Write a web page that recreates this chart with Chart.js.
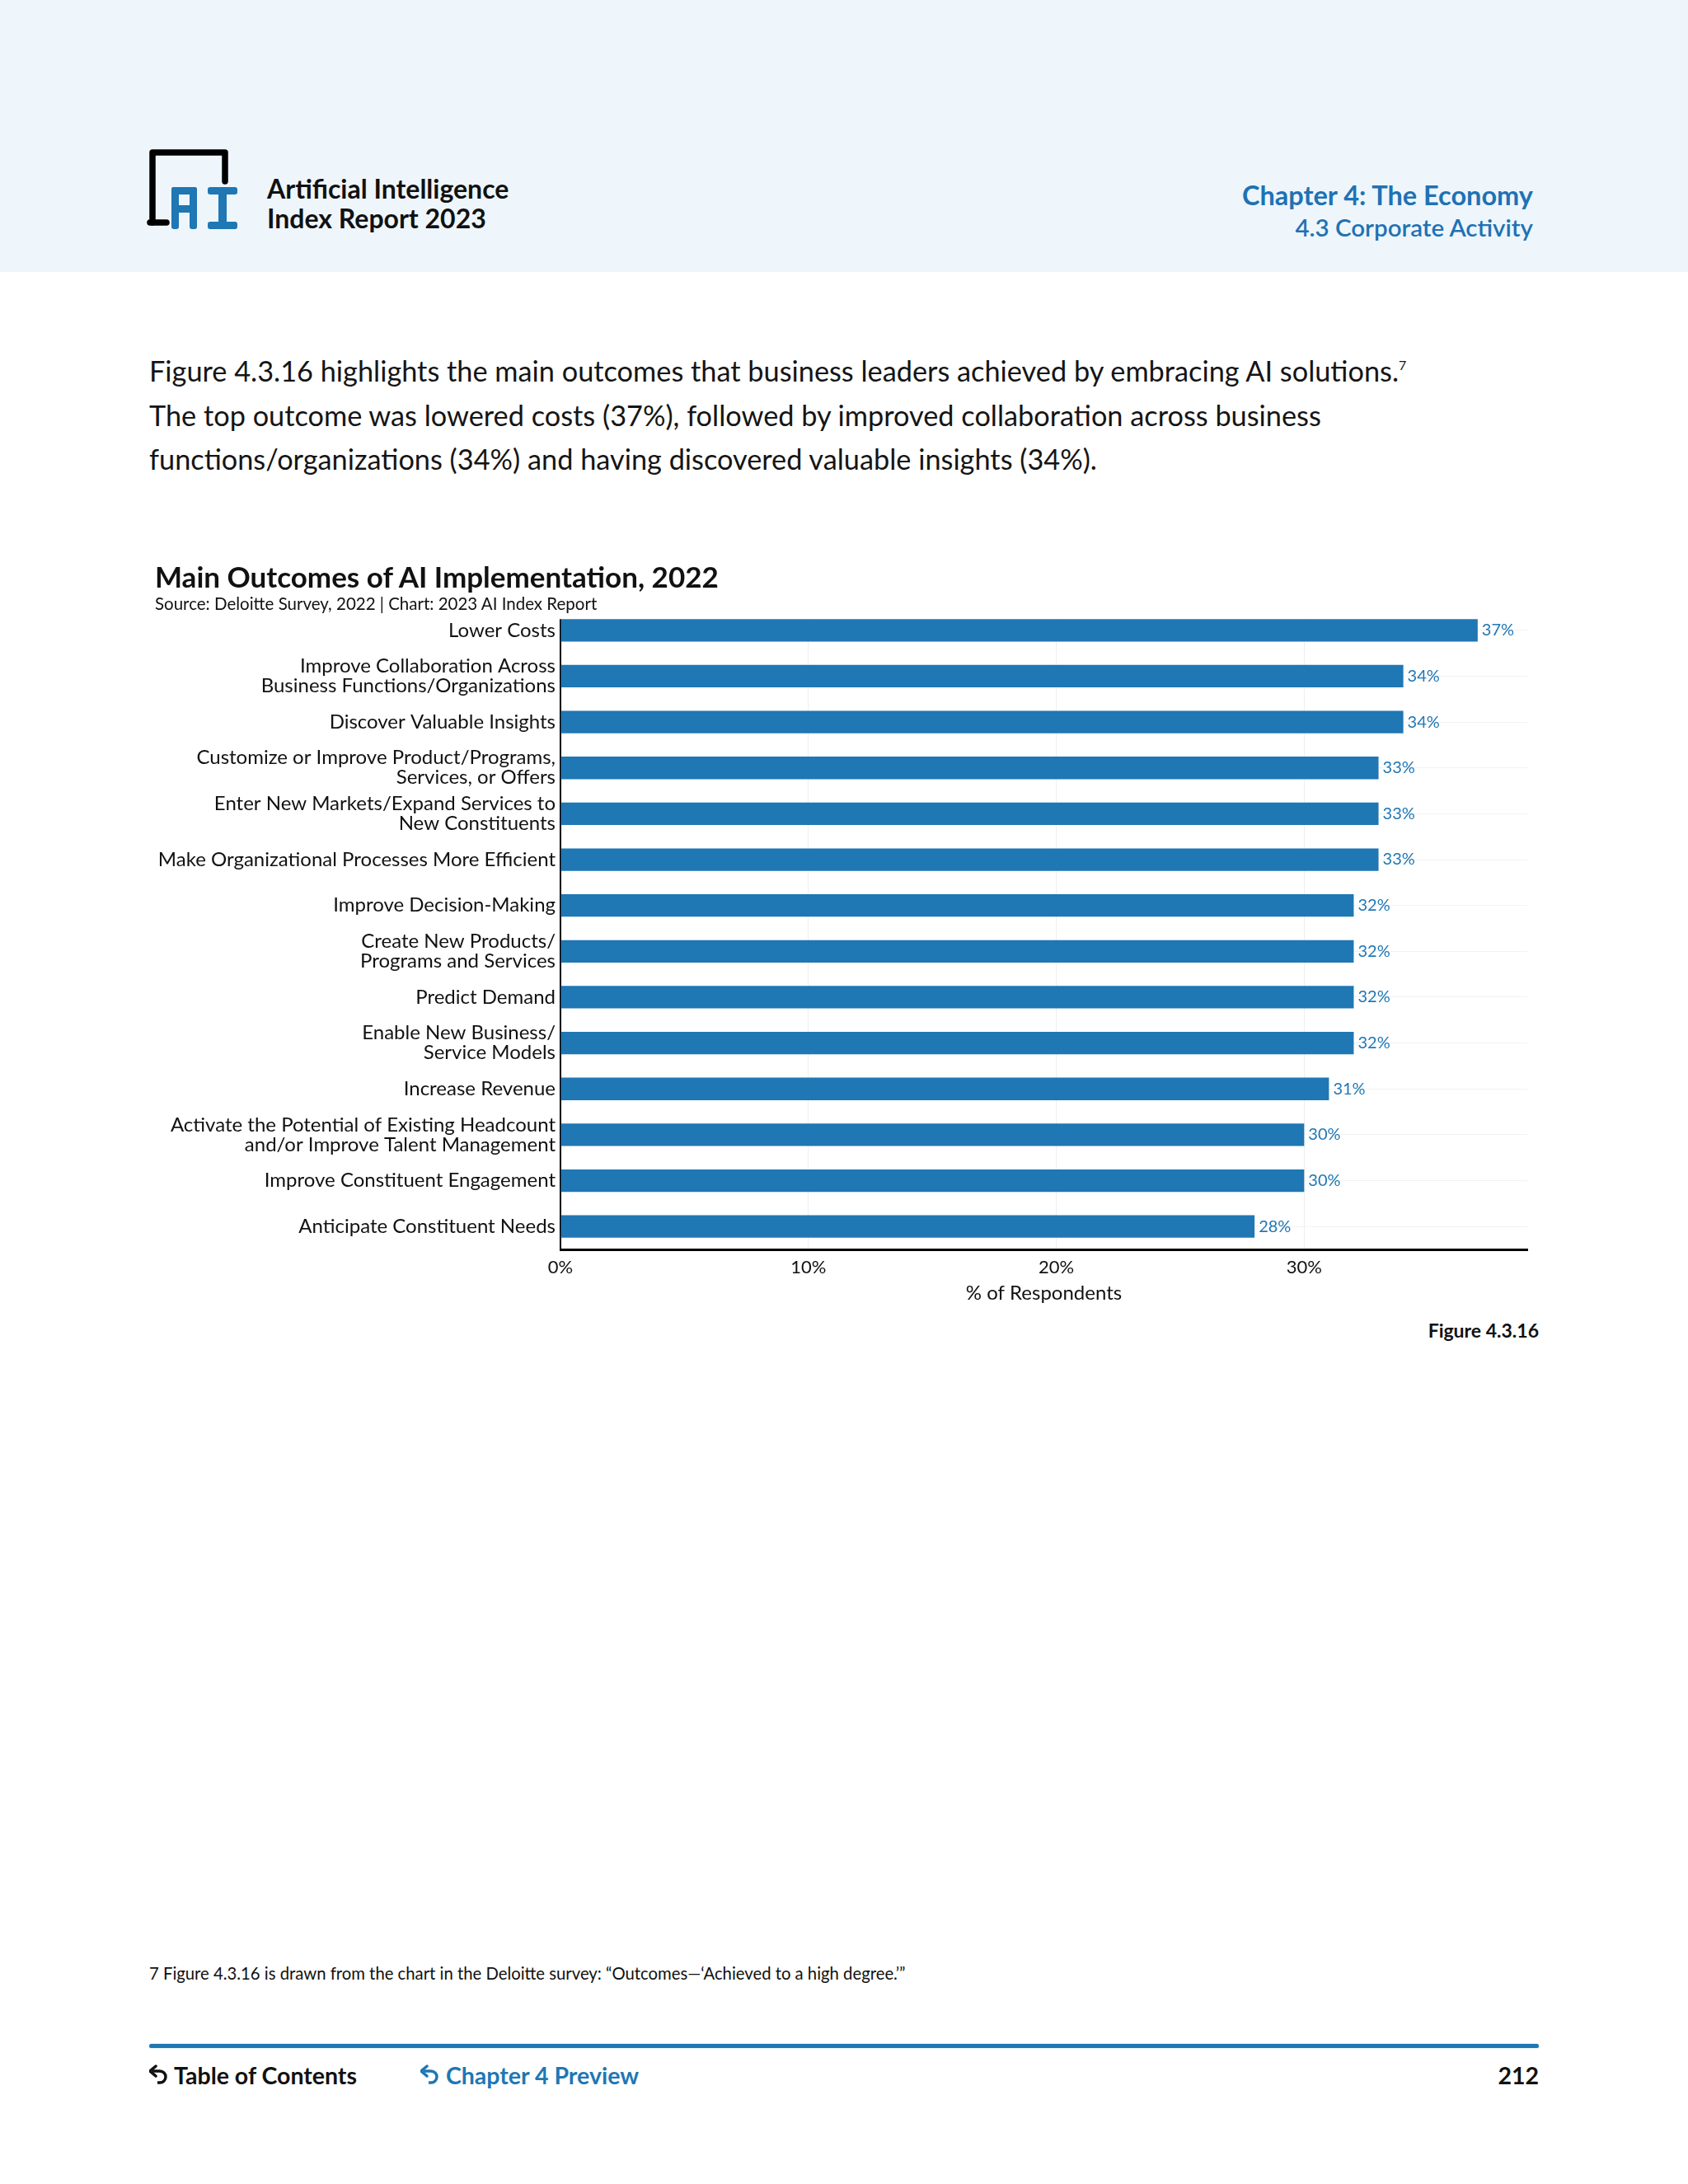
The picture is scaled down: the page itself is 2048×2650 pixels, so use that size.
<!DOCTYPE html>
<html>
<head>
<meta charset="utf-8">
<script src="https://cdn.jsdelivr.net/npm/chart.js@4.4.0/dist/chart.umd.min.js"></script>
<style>
  body { margin: 0; background: #fff; font-family: Lato, "Open Sans", sans-serif; color: #111; }
  .page { position: relative; width: 2048px; height: 2650px; overflow: hidden; }
  .header { position: absolute; left: 0; top: 0; width: 2048px; height: 330px; background: #eef6fc; }
  .abs { position: absolute; white-space: nowrap; }
  .brand { left: 324px; top: 211px; font-size: 32px; font-weight: 700; line-height: 36px; color: #111; }
  .chapter { right: 188px; top: 216px; text-align: right; color: #1f72b4; font-weight: 700; }
  .chapter .c1 { font-size: 32.5px; line-height: 41px; }
  .chapter .c2 { font-size: 29.5px; line-height: 37px; font-weight: 600; }
  .para { left: 181px; top: 416px; font-size: 34.3px; line-height: 53.5px; color: #151515; white-space: normal; width: 1750px; }
  .para sup { font-size: 16px; vertical-align: 14px; }
  .ctitle { left: 188px; top: 678px; font-size: 35px; font-weight: 700; color: #111; z-index: 2; }
  .csub { left: 188px; top: 720px; font-size: 20.5px; color: #111; z-index: 2; }
  .fig { right: 181px; top: 1600px; font-size: 23px; font-weight: 700; color: #111; }
  .note { left: 181px; top: 2382px; font-size: 20.3px; color: #111; }
  .rule { left: 181px; top: 2480px; width: 1686px; height: 5px; background: #1f77b4; border-radius: 3px; box-shadow: 0 0 2px #9cd0f0; }
  .foot { top: 2500px; font-size: 28.5px; font-weight: 700; line-height: 36px; }
  #chartBox { position: absolute; left: 180px; top: 719px; width: 1690px; height: 881px; }
</style>
</head>
<body>
<div class="page">
  <div class="header"></div>
  <svg class="abs" style="left:178px;top:178px" width="116" height="104" viewBox="0 0 116 104">
    <path d="M7 92 V7 H95 V42" fill="none" stroke="#000" stroke-width="7.5" stroke-linejoin="round" stroke-linecap="round"/>
    <path d="M4 92 H24" stroke="#000" stroke-width="7.5" stroke-linecap="round"/>
    <rect x="30" y="49" width="31" height="9" rx="3" fill="#1f77b4"/>
    <rect x="30" y="49" width="9" height="51" rx="3" fill="#1f77b4"/>
    <rect x="52" y="49" width="9" height="51" rx="3" fill="#1f77b4"/>
    <rect x="30" y="71" width="31" height="9" rx="2" fill="#1f77b4"/>
    <rect x="74" y="49" width="36" height="9" rx="3" fill="#1f77b4"/>
    <rect x="87" y="49" width="10" height="51" fill="#1f77b4"/>
    <rect x="74" y="91" width="36" height="9" rx="3" fill="#1f77b4"/>
  </svg>
  <div class="abs brand">Artificial Intelligence<br>Index Report 2023</div>
  <div class="abs chapter"><div class="c1">Chapter 4: The Economy</div><div class="c2">4.3 Corporate Activity</div></div>

  <div class="abs para">Figure 4.3.16 highlights the main outcomes that business leaders achieved by embracing AI solutions.<sup>7</sup><br>The top outcome was lowered costs (37%), followed by improved collaboration across business<br>functions/organizations (34%) and having discovered valuable insights (34%).</div>

  <div id="chartBox"><canvas id="outcomesChart"></canvas></div>
  <div class="abs ctitle">Main Outcomes of AI Implementation, 2022</div>
  <div class="abs csub">Source: Deloitte Survey, 2022 | Chart: 2023 AI Index Report</div>
  <div class="abs fig">Figure 4.3.16</div>

  <div class="abs note">7 Figure 4.3.16 is drawn from the chart in the Deloitte survey: “Outcomes—‘Achieved to a high degree.’”</div>
  <div class="abs rule"></div>
  <div class="abs foot" style="left:181px;color:#111">
    <svg width="24" height="28" viewBox="0 0 24 28" style="vertical-align:-4px"><path d="M4 8 H13 A7 7 0 0 1 13 22 H10" fill="none" stroke="#111" stroke-width="3.5"/><path d="M1 8 L8 2 M1 8 L8 14" stroke="#111" stroke-width="3.5" stroke-linecap="round"/></svg>
    Table of Contents</div>
  <div class="abs foot" style="left:510px;color:#1f77b4">
    <svg width="24" height="28" viewBox="0 0 24 28" style="vertical-align:-4px"><path d="M4 8 H13 A7 7 0 0 1 13 22 H10" fill="none" stroke="#1f77b4" stroke-width="3.5"/><path d="M1 8 L8 2 M1 8 L8 14" stroke="#1f77b4" stroke-width="3.5" stroke-linecap="round"/></svg>
    Chapter 4 Preview</div>
  <div class="abs foot" style="right:181px;color:#111">212</div>
</div>

<script>
const outcomes = [
    'Lower Costs',
    ['Improve Collaboration Across', 'Business Functions/Organizations'],
    'Discover Valuable Insights',
    ['Customize or Improve Product/Programs,', 'Services, or Offers'],
    ['Enter New Markets/Expand Services to', 'New Constituents'],
    'Make Organizational Processes More Efficient',
    'Improve Decision-Making',
    ['Create New Products/', 'Programs and Services'],
    'Predict Demand',
    ['Enable New Business/', 'Service Models'],
    'Increase Revenue',
    ['Activate the Potential of Existing Headcount', 'and/or Improve Talent Management'],
    'Improve Constituent Engagement',
    'Anticipate Constituent Needs'
];
const respondentShare = [37, 34, 34, 33, 33, 33, 32, 32, 32, 32, 31, 30, 30, 28];
const xTickValues = [0, 10, 20, 30];

const barBlue = '#1f77b4';

// left axis line starts at the top of the first bar, like the original
const leftAxis = {
    id: 'leftAxis',
    beforeDatasetsDraw(chart) {
        const ctx = chart.ctx;
        const area = chart.chartArea;
        const first = chart.getDatasetMeta(0).data[0];
        const top = first.y - first.height / 2;
        ctx.save();
        ctx.clearRect(area.left - 3, area.top - 1, area.right - area.left + 6, top - area.top + 1);
        ctx.strokeStyle = '#000';
        ctx.lineWidth = 2;
        ctx.beginPath();
        ctx.moveTo(area.left, top);
        ctx.lineTo(area.left, area.bottom);
        ctx.stroke();
        ctx.restore();
    }
};

// writes the "37%" style labels just past the end of each bar
const valueLabels = {
    id: 'valueLabels',
    afterDatasetsDraw(chart) {
        const ctx = chart.ctx;
        const meta = chart.getDatasetMeta(0);
        ctx.save();
        ctx.font = '20px Lato, sans-serif';
        ctx.fillStyle = barBlue;
        ctx.textAlign = 'left';
        ctx.textBaseline = 'middle';
        meta.data.forEach((bar, i) => {
            ctx.fillText(respondentShare[i] + '%', bar.x + 5, bar.y);
        });
        ctx.restore();
    }
};

const ctx = document.getElementById('outcomesChart').getContext('2d');
const outcomesChart = new Chart(ctx, {
    type: 'bar',
    data: {
        labels: outcomes,
        datasets: [{
            label: '% of Respondents',
            data: respondentShare,
            backgroundColor: barBlue,
            categoryPercentage: 1,
            barPercentage: 0.49
        }]
    },
    plugins: [leftAxis, valueLabels],
    options: {
        indexAxis: 'y',
        responsive: true,
        maintainAspectRatio: false,
        animation: false,
        layout: { padding: { top: 6, right: 17, bottom: 4, left: 0 } },
        plugins: {
            legend: { display: false },
            tooltip: { enabled: false }
        },
        scales: {
            x: {
                min: 0,
                max: 39,
                afterBuildTicks: scale => {
                    scale.ticks = xTickValues.map(v => ({ value: v }));
                },
                afterFit: scale => { scale.height = 80; },
                ticks: {
                    padding: 9,
                    color: '#111',
                    font: { family: 'Lato', size: 22 },
                    callback: v => v + '%'
                },
                grid: { color: '#eeeeee', lineWidth: 1, drawTicks: false },
                border: { color: '#000', width: 3 },
                title: {
                    display: true,
                    text: '% of Respondents',
                    color: '#111',
                    font: { family: 'Lato', size: 24 },
                    padding: { top: 0, bottom: 12 }
                }
            },
            y: {
                afterFit: scale => { scale.width = 500; },
                ticks: {
                    padding: 6,
                    color: '#111',
                    font: { family: 'Lato', size: 24, lineHeight: 1.0 }
                },
                grid: { color: '#f2f2f2', lineWidth: 1, drawTicks: false, offset: false },
                border: { display: false }
            }
        }
    }
});
</script>
</body>
</html>
